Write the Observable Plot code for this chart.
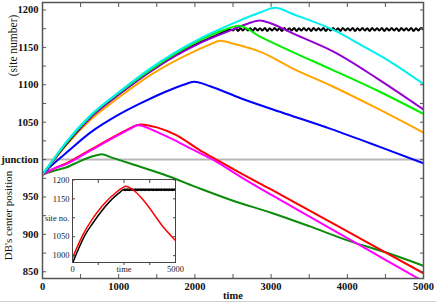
<!DOCTYPE html>
<html><head><meta charset="utf-8">
<script src="https://cdn.jsdelivr.net/npm/d3@7"></script>
<script src="https://cdn.jsdelivr.net/npm/@observablehq/plot@0.6"></script>
<style>
html,body{margin:0;padding:0;background:#fff;}
#wrap{position:relative;width:436px;height:304px;overflow:hidden;}
#edge{position:absolute;left:0;top:301px;width:436px;height:0;border-top:1px solid #cfcfcf;}
</style></head><body><div id="wrap"><div id="edge"></div></div>
<script>
// ---- data (time, DB centre position) ----
const darkGreen = [[0,980],[150,985],[298,989],[495,998],[650,1004],[780,1007],[900,1003],[1200,993],[1591,980],[2073,961],[2500,945],[3000,929],[3500,911],[4001,892],[4500,876],[5000,858]];
const red = [[0,980],[150,988],[312,995],[627,1013],[1000,1034],[1150,1042],[1285,1047],[1500,1043],[1750,1033],[2073,1012],[2300,999],[2599,982],[3000,960],[3500,932],[4001,904],[4500,876],[5000,848]];
const magenta = [[0,980],[150,988],[312,994],[627,1012],[1000,1033],[1150,1041],[1250,1046],[1500,1037],[1750,1025],[1941,1015],[2270,998],[2600,977],[3000,953],[3500,924],[4001,895],[4500,866],[5000,837]];
const blue = [[0,980],[150,995],[312,1009],[627,1036],[1000,1060],[1284,1075],[1600,1090],[1850,1100],[1990,1104],[2200,1098],[2600,1082],[3200,1061],[3782,1041],[4400,1018],[5000,995]];
const orange = [[0,980],[150,999],[300,1018],[627,1053],[1000,1083],[1416,1113],[2000,1145],[2200,1154],[2336,1159],[2500,1155],[2861,1144],[3300,1121],[3782,1099],[4400,1068],[5000,1036]];
const green = [[0,980],[150,1001],[300,1021],[627,1058],[1000,1089],[1416,1120],[2073,1160],[2400,1174],[2576,1179],[2861,1164],[3300,1143],[3782,1121],[4400,1092],[5000,1061]];
const purple = [[0,980],[150,1000],[300,1020],[627,1056],[1000,1087],[1416,1118],[2073,1156],[2500,1174],[2700,1182],[2850,1186],[3000,1182],[3300,1168],[3825,1144],[4400,1108],[5000,1067]];
const cyan = [[0,980],[150,1001],[300,1022],[627,1059],[1000,1090],[1416,1122],[2073,1162],[2500,1182],[2861,1197],[3050,1203],[3300,1194],[3825,1173],[4200,1152],[4561,1131],[5000,1101]];
const blackRise = [[0,980],[150,1000],[300,1019],[627,1056],[1000,1087],[1416,1118],[2073,1157],[2300,1167]];
const blackFlatT = d3.range(2470, 5000, 32);
const blackFlatV = [1174,1172.5,1176,1172,1175.5,1172.5,1176,1172.5,1175.5,1172,1176,1172.5,1175.5,1172.5,1176,1172,1175.5,1172.5,1176,1172.5,
 1175.5,1172,1176,1172.5,1175.5,1172.5,1176,1172,1175.5,1172.5,1176,1172.5,1175.5,1172,1176,1172.5,1175.5,1172.5,1176,1172,
 1175.5,1172.5,1176,1172.5,1175.5,1172,1176,1172.5,1175.5,1172.5,1176,1172,1175.5,1172.5,1176,1172.5,1175.5,1172,1176,1172.5,
 1175.5,1172.5,1176,1172,1175.5,1172.5,1176,1172.5,1175.5,1172,1176,1172.5,1175.5,1172.5,1176,1172,1175.5,1172.5,1176,1174];
const insetRed = [[0,994],[484,1053],[968,1097],[1452,1132],[2096,1166],[2400,1178],[2580,1183],[2750,1180],[2982,1172],[3350,1152],[3708,1128],[4357,1079],[5000,1040]];

const junctionLevel = 1000;
const yTicks = [850,900,950,1000,1050,1100,1150,1200];
const yTickLabels = ["850","900","950","junction","1050","1100","1150","1200"];
const yMinor = d3.range(850, 1201, 25);
const xTicks = [0,1000,2000,3000,4000,5000];
const xMinor = d3.range(0, 5001, 500);
const insetYTicks = [1000,1050,1100,1150,1200];
const insetYLabels = ["1000","1050","site no.","1150","1200"];
const insetXTicks = [0,2500,5000];
const insetXLabels = ["0","time","5000"];
const insetXMinor = [1250,2500,3750];

const black = blackRise.concat(blackFlatT.map((t,i) => [t, blackFlatV[i]]));

const series = [
  {pts: darkGreen, color: "#0a8c0a"},
  {pts: red, color: "#ff0000"},
  {pts: magenta, color: "#ff00ff"},
  {pts: blue, color: "#0000ff"},
  {pts: orange, color: "#ffa500"},
  {pts: black, color: "#000000"},
  {pts: purple, color: "#9400d3"},
  {pts: green, color: "#00ee00"},
  {pts: cyan, color: "#00f0f0"}
];

const serif = "'Liberation Serif', 'DejaVu Serif', serif";
const fc = "#555";

const lines = series.map(s => Plot.line(s.pts, {x: d => d[0], y: d => d[1], stroke: s.color, strokeWidth: 2, curve: "monotone-x", clip: true}));

const main = Plot.plot({
  width: 436, height: 304,
  marginLeft: 42, marginRight: 13, marginTop: 2, marginBottom: 26,
  style: {fontFamily: serif, background: "transparent", color: "#111", position: "absolute", left: "0px", top: "0px"},
  x: {domain: [0, 5000]},
  y: {domain: [841, 1210]},
  marks: [
    Plot.ruleY([junctionLevel], {stroke: "#b8b8b8", strokeWidth: 2}),
    ...lines,
    Plot.axisY(yMinor, {anchor: "left", tickSize: -4, fill: "none", stroke: fc}),
    Plot.axisY(yMinor, {anchor: "right", tickSize: -4, fill: "none", stroke: fc}),
    Plot.axisX(xMinor, {anchor: "bottom", tickSize: -4, fill: "none", stroke: fc}),
    Plot.axisX(xMinor, {anchor: "top", tickSize: -4, fill: "none", stroke: fc}),
    Plot.axisY(yTicks, {anchor: "left", tickSize: 0, tickPadding: 4, tickFormat: d => yTickLabels[yTicks.indexOf(d)], fontSize: 10.5, fontWeight: "bold", label: null}),
    Plot.axisX(xTicks, {anchor: "bottom", tickSize: 0, tickPadding: 4, tickFormat: d3.format("d"), fontSize: 10.5, fontWeight: "bold", label: null}),
    Plot.text(["time"], {frameAnchor: "bottom", dy: 20, fontWeight: "bold", fontSize: 10.5}),
    Plot.text(["(site number)"], {frameAnchor: "top-left", textAnchor: "middle", dx: -34, dy: 43, rotate: -90, fontSize: 11.5}),
    Plot.text(["DB's center position"], {frameAnchor: "left", textAnchor: "middle", dx: -34, dy: 75, rotate: -90, fontSize: 11}),
    Plot.frame({stroke: fc, strokeWidth: 1.5})
  ]
});

const inset = Plot.plot({
  width: 146, height: 106,
  marginLeft: 31, marginRight: 12, marginTop: 7, marginBottom: 16,
  style: {fontFamily: serif, background: "transparent", position: "absolute", left: "41px", top: "172px", color: "#222"},
  x: {domain: [0, 5000]},
  y: {domain: [982, 1201]},
  marks: [
    Plot.frame({fill: "white"}),
    Plot.line(black, {x: d => d[0], y: d => d[1], stroke: "#000", strokeWidth: 1.5, curve: "monotone-x", clip: true}),
    Plot.line(insetRed, {x: d => d[0], y: d => d[1], stroke: "#ff0000", strokeWidth: 1.5, curve: "monotone-x", clip: true}),
    Plot.axisY(insetYTicks, {anchor: "left", tickSize: -3, fill: "none", stroke: "#444"}),
    Plot.axisY(insetYTicks, {anchor: "right", tickSize: -3, fill: "none", stroke: "#444"}),
    Plot.axisX(insetXMinor, {anchor: "top", tickSize: -3, fill: "none", stroke: "#444"}),
    Plot.axisX(insetXMinor, {anchor: "bottom", tickSize: 3, fill: "none", stroke: "#444"}),
    Plot.axisY(insetYTicks, {anchor: "left", tickSize: 0, tickPadding: 3, tickFormat: d => insetYLabels[insetYTicks.indexOf(d)], fontSize: 8.5, label: null}),
    Plot.axisX(insetXTicks, {anchor: "bottom", tickSize: 0, tickPadding: 3, tickFormat: d => insetXLabels[insetXTicks.indexOf(d)], fontSize: 8.5, label: null}),
    Plot.frame({stroke: "#444", strokeWidth: 1})
  ]
});

const wrap = document.getElementById("wrap");
wrap.appendChild(main);
wrap.appendChild(inset);
</script></body></html>
